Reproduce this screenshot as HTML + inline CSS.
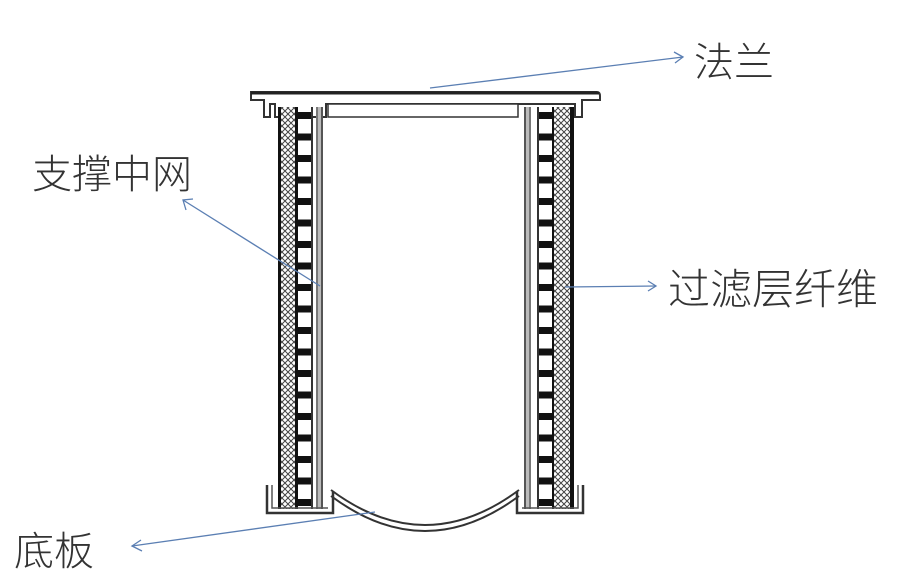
<!DOCTYPE html>
<html><head><meta charset="utf-8"><style>
html,body{margin:0;padding:0;background:#fff;}
svg{display:block;}
text{font-family:"Liberation Sans","Noto Sans CJK SC",sans-serif;fill:#333;font-size:40px;font-weight:300;}
</style></head><body>
<svg width="897" height="583" viewBox="0 0 897 583" xmlns="http://www.w3.org/2000/svg">
<defs>
<pattern id="xh" width="6" height="6" patternUnits="userSpaceOnUse">
<rect width="6" height="6" fill="#fff"/>
<path d="M0 0L6 6M6 0L0 6" stroke="#444" stroke-width="1"/>
</pattern>
<pattern id="lad" x="0" y="112" width="14" height="21.5" patternUnits="userSpaceOnUse">
<rect width="14" height="21.5" fill="#fff"/>
<rect x="0" y="0" width="14" height="7" fill="#111"/>
</pattern>
</defs>
<path d="M251 92 H597 Q600 92 600 96 V100 H582 V117 H575 V104 H326 V117 H275 V104 H270 V117 H264 V100 H251 Z" fill="#fff" stroke="#333" stroke-width="2"/>
<line x1="251" y1="93" x2="599" y2="93" stroke="#222" stroke-width="3"/>
<rect x="328" y="104" width="190" height="13" fill="#fff" stroke="#333" stroke-width="1.5"/>
<rect x="278" y="107" width="3" height="402" fill="#111"/>
<rect x="281" y="107" width="14" height="402" fill="url(#xh)"/>
<rect x="295" y="107" width="3" height="402" fill="#111"/>
<rect x="298" y="107" width="13" height="402" fill="url(#lad)"/>
<rect x="311" y="107" width="2" height="402" fill="#333"/>
<rect x="316" y="107" width="2" height="402" fill="#777"/>
<rect x="318" y="107" width="3" height="402" fill="#bbb"/>
<rect x="321" y="107" width="2" height="402" fill="#555"/>
<rect x="524" y="107" width="2" height="402" fill="#555"/>
<rect x="526" y="107" width="3" height="402" fill="#bbb"/>
<rect x="529" y="107" width="2" height="402" fill="#777"/>
<rect x="537" y="107" width="2" height="402" fill="#333"/>
<rect x="539" y="107" width="13" height="402" fill="url(#lad)"/>
<rect x="552" y="107" width="2" height="402" fill="#111"/>
<rect x="554" y="107" width="16" height="402" fill="url(#xh)"/>
<rect x="570" y="107" width="4" height="402" fill="#111"/>
<path d="M267 485 V513 H333 V492" fill="none" stroke="#333" stroke-width="2.5"/>
<path d="M272 485 V508 H328" fill="none" stroke="#555" stroke-width="1.5"/>
<path d="M583 485 V513 H517 V492" fill="none" stroke="#333" stroke-width="2.5"/>
<path d="M578 485 V508 H522" fill="none" stroke="#555" stroke-width="1.5"/>
<path d="M331 490 Q425 560 519 490" fill="none" stroke="#333" stroke-width="2"/>
<path d="M331 496 Q425 566 519 496" fill="none" stroke="#333" stroke-width="2"/>
<g stroke="#5b7fb3" stroke-width="1.3" fill="none">
<line x1="430" y1="88" x2="683" y2="57"/><path d="M674 52 L683 57 L675 63"/>
<line x1="320" y1="286" x2="183" y2="200"/><path d="M186 210 L183 200 L193 199"/>
<line x1="565" y1="287" x2="656" y2="286"/><path d="M648 281 L656 286 L648 291"/>
<line x1="375" y1="512" x2="132" y2="546"/><path d="M141 540 L132 546 L142 551"/>
</g>
<text x="694" y="76">法兰</text>
<text x="32" y="188">支撑中网</text>
<text x="668" y="304" style="font-size:42px">过滤层纤维</text>
<text x="14" y="565">底板</text>
</svg>
</body></html>
